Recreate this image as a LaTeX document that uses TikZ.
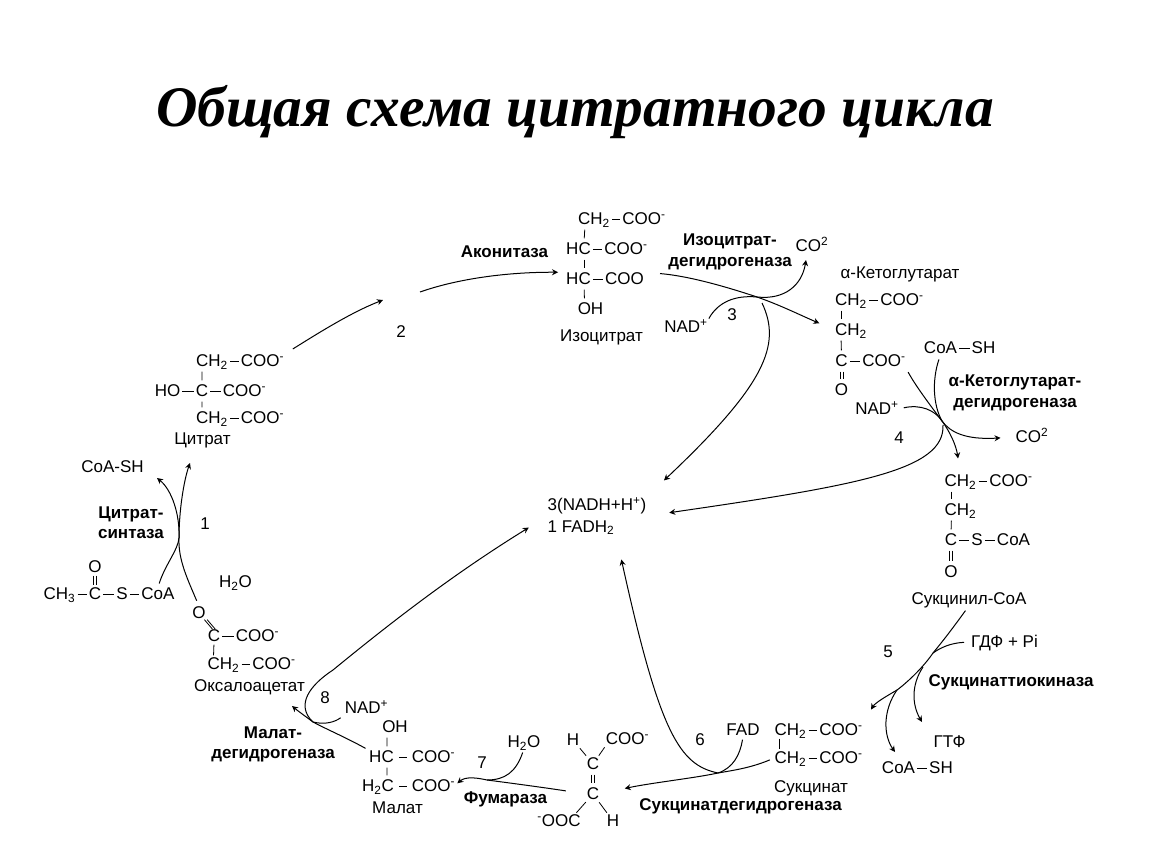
\documentclass[tikz,border=0pt]{standalone}
\usepackage{fontspec}
\setmainfont{Liberation Sans}
\newfontfamily\titlefont{Liberation Serif}
\usetikzlibrary{arrows.meta}
\newcommand{\coom}{COO\textsuperscript{-}}
\newcommand{\chtwo}{CH\textsubscript{2}}
\newcommand{\htwoo}{H\textsubscript{2}O}
\newcommand{\nadp}{NAD\textsuperscript{+}}
\newcommand{\cotwo}{CO\textsuperscript{2}}
\newcommand{\dbond}[3][vert]{%
  \draw[#1] ([xshift=-1.4pt]#2) -- ([xshift=-1.4pt]#3);
  \draw[#1] ([xshift=1.4pt]#2) -- ([xshift=1.4pt]#3);}
\tikzset{
  txt/.style={inner sep=0pt, text height=12pt, text depth=1pt, font=\fontsize{17}{19}\selectfont},
  enz/.style={inner sep=0pt, align=center, font=\fontsize{17}{20.5}\selectfont\bfseries},
  bond/.style={draw, line width=0.8pt, shorten <=2pt, shorten >=2pt},
  vert/.style={bond, shorten <=4pt, shorten >=4pt},
  wide/.style={bond, shorten <=5pt, shorten >=5pt},
  tight/.style={bond, shorten <=0pt, shorten >=0pt},
  rxn/.style={draw, line width=1pt, -{Stealth[length=6pt,width=6pt]}},
  side/.style={draw, line width=1pt}
}
\begin{document}
\begin{tikzpicture}[x=1pt, y=-1pt]
  \useasboundingbox (0,0) rectangle (1150,864);
  \node[inner sep=0pt, font=\titlefont\fontsize{57.4}{60}\selectfont\bfseries\itshape] (title) at (575,112) {Общая схема цитратного цикла};

  % isocitrate
  \node[txt] (ic1a) at (594,219) {\chtwo};
  \node[txt] (ic1b) at (644,219) {\coom};
  \node[txt] (ic2a) at (578.5,249) {HC};
  \node[txt] (ic2b) at (626,249) {\coom};
  \node[txt] (ic3a) at (578.5,279) {HC};
  \node[txt] (ic3b) at (624.5,279) {COO};
  \node[txt] (ic4) at (590.5,309) {OH};
  \node[txt] (icname) at (601.5,336) {Изоцитрат};
  \draw[bond] (ic1a) -- (ic1b);
  \draw[bond] (ic2a) -- (ic2b);
  \draw[bond] (ic3a) -- (ic3b);
  \draw[vert] ([xshift=7pt]ic1a.south west) -- ([xshift=18pt]ic2a.north west);
  \draw[vert] ([xshift=18pt]ic2a.south west) -- ([xshift=18pt]ic3a.north west);
  \draw[vert] ([xshift=18pt]ic3a.south west) -- ([xshift=7pt]ic4.north west);
  \node[enz] (acon) at (504.5,252) {Аконитаза};
  \node[enz] (icdh) at (730,252) {Изоцитрат-\\дегидрогеназа};
  \node[txt] (co2a) at (812,246) {\cotwo};
  \node[txt] (nada) at (686,327) {\nadp};
  \node[txt] (n3) at (732,315) {3};
  \node[txt] (n2) at (401,332) {2};

  % alpha-ketoglutarate
  \node[txt] (kgname) at (900,273) {α-Кетоглутарат};
  \node[txt] (kg1a) at (851,300) {\chtwo};
  \node[txt] (kg1b) at (902,300) {\coom};
  \node[txt] (kg2) at (851,330) {\chtwo};
  \node[txt] (kg3a) at (841.5,361) {C};
  \node[txt] (kg3b) at (884,361) {\coom};
  \node[txt] (kg4) at (841.5,390) {O};
  \draw[bond] (kg1a) -- (kg1b);
  \draw[bond] (kg3a) -- (kg3b);
  \draw[vert] ([xshift=6pt]kg1a.south west) -- ([xshift=6pt]kg2.north west);
  \draw[vert] ([xshift=6pt]kg2.south west) -- (kg3a.north);
  \dbond{kg3a.south}{kg4.north}
  \node[txt] (coa4a) at (940.5,348) {CoA};
  \node[txt] (coa4b) at (983.5,348) {SH};
  \draw[bond] (coa4a) -- (coa4b);
  \node[enz] (kgdh) at (1015,393) {α-Кетоглутарат-\\дегидрогеназа};
  \node[txt] (nadb) at (877,409) {\nadp};
  \node[txt] (n4) at (899,438) {4};
  \node[txt] (co2b) at (1032,437) {\cotwo};

  % succinyl-CoA
  \node[txt] (sc1a) at (960.5,481) {\chtwo};
  \node[txt] (sc1b) at (1011,481) {\coom};
  \node[txt] (sc2) at (960.5,510) {\chtwo};
  \node[txt] (sc3a) at (951,540) {C};
  \node[txt] (sc3b) at (977,540) {S};
  \node[txt] (sc3c) at (1013.5,540) {CoA};
  \node[txt] (sc4) at (951,572) {O};
  \node[txt] (scname) at (969,599) {Сукцинил-CoA};
  \draw[bond] (sc1a) -- (sc1b);
  \draw[bond] (sc3a) -- (sc3b);
  \draw[bond] (sc3b) -- (sc3c);
  \draw[vert] ([xshift=7pt]sc1a.south west) -- ([xshift=7pt]sc2.north west);
  \draw[vert] ([xshift=7pt]sc2.south west) -- (sc3a.north);
  \dbond{sc3a.south}{sc4.north}

  % succinate side
  \node[txt] (gdf) at (1004.5,642) {ГДФ + Pi};
  \node[txt] (n5) at (888,652) {5};
  \node[enz] (skin) at (1011,682) {Сукцинаттиокиназа};
  \node[txt] (gtf) at (949.5,742) {ГТФ};
  \node[txt] (coa5a) at (898.5,768) {CoA};
  \node[txt] (coa5b) at (941,768) {SH};
  \draw[bond] (coa5a) -- (coa5b);
  \node[txt] (su1a) at (790.5,730) {\chtwo};
  \node[txt] (su1b) at (841,730) {\coom};
  \node[txt] (su2a) at (790.5,758) {\chtwo};
  \node[txt] (su2b) at (841,758) {\coom};
  \node[txt] (suname) at (811,787) {Сукцинат};
  \node[enz] (sdh) at (740.5,806) {Сукцинатдегидрогеназа};
  \draw[bond] (su1a) -- (su1b);
  \draw[bond] (su2a) -- (su2b);
  \draw[bond] ([xshift=5pt]su1a.south west) -- ([xshift=5pt]su2a.north west);
  \node[txt] (fad) at (743,730) {FAD};
  \node[txt] (n6) at (700,740) {6};

  % fumarate
  \node[txt] (fu1a) at (573,740) {H};
  \node[txt] (fu1b) at (627.5,739) {\coom};
  \node[txt] (fu2) at (593,764) {C};
  \node[txt] (fu3) at (593,794) {C};
  \node[txt] (fu4a) at (559,821) {\textsuperscript{-}OOC};
  \node[txt] (fu4b) at (613,821) {H};
  \draw[bond] (fu1a) -- (fu2);
  \draw[bond] (fu1b.south west) -- (fu2);
  \dbond{fu2.south}{fu3.north}
  \draw[bond] (fu3) -- ([xshift=16pt]fu4a.north);
  \draw[bond] (fu3) -- (fu4b);
  \node[enz] (fum) at (505.5,799) {Фумараза};
  \node[txt] (wata) at (524,742) {\htwoo};
  \node[txt] (n7) at (482,763) {7};

  % malate
  \node[txt] (ma1) at (395,727) {OH};
  \node[txt] (ma2a) at (381.5,757) {HC};
  \node[txt] (ma2b) at (433.5,757) {\coom};
  \node[txt] (ma3a) at (378,786) {H\textsubscript{2}C};
  \node[txt] (ma3b) at (433.5,786) {\coom};
  \node[txt] (maname) at (397.5,808) {Малат};
  \draw[wide] (ma2a) -- (ma2b);
  \draw[wide] (ma3a) -- (ma3b);
  \draw[vert] ([xshift=5pt]ma1.south west) -- ([xshift=18pt]ma2a.north west);
  \draw[vert] ([xshift=18pt]ma2a.south west) -- ([xshift=25pt]ma3a.north west);
  \node[enz] (mdh) at (273,744.5) {Малат-\\дегидрогеназа};
  \node[txt] (nadc) at (366.5,708) {\nadp};
  \node[txt] (n8) at (325,698) {8};

  % oxaloacetate
  \node[txt] (oa1) at (199,613) {O};
  \node[txt] (oa2a) at (214,636) {C};
  \node[txt] (oa2b) at (257.5,636) {\coom};
  \node[txt] (oa3a) at (223.5,664) {\chtwo};
  \node[txt] (oa3b) at (274,664) {\coom};
  \node[txt] (oaname) at (249.5,686) {Оксалоацетат};
  \dbond[tight]{oa1.south east}{oa2a.north}
  \draw[bond] (oa2a) -- (oa2b);
  \draw[bond] (oa3a) -- (oa3b);
  \draw[bond] (oa2a.south) -- ([xshift=6pt]oa3a.north west);

  % acetyl-CoA
  \node[txt] (ac1) at (95,567) {O};
  \node[txt] (ac2a) at (59.5,594) {CH\textsubscript{3}};
  \node[txt] (ac2b) at (95,594) {C};
  \node[txt] (ac2c) at (122,594) {S};
  \node[txt] (ac2d) at (158,594) {CoA};
  \dbond[bond]{ac1.south}{ac2b.north}
  \draw[bond] (ac2a) -- (ac2b);
  \draw[bond] (ac2b) -- (ac2c);
  \draw[bond] (ac2c) -- (ac2d);
  \node[txt] (watb) at (235.5,582) {\htwoo};
  \node[txt] (coab) at (112.5,467) {CoA-SH};
  \node[enz] (csyn) at (131,522.5) {Цитрат-\\синтаза};
  \node[txt] (n1) at (205,524) {1};

  % citrate
  \node[txt] (ci1a) at (212,361) {\chtwo};
  \node[txt] (ci1b) at (262.5,361) {\coom};
  \node[txt] (ci2a) at (167.5,391) {HO};
  \node[txt] (ci2b) at (202,391) {C};
  \node[txt] (ci2c) at (244.5,391) {\coom};
  \node[txt] (ci3a) at (212,418) {\chtwo};
  \node[txt] (ci3b) at (262.5,418) {\coom};
  \node[txt] (ciname) at (202.5,439) {Цитрат};
  \draw[bond] (ci1a) -- (ci1b);
  \draw[bond] (ci2a) -- (ci2b);
  \draw[bond] (ci2b) -- (ci2c);
  \draw[bond] (ci3a) -- (ci3b);
  \draw[vert] ([xshift=6pt]ci1a.south west) -- (ci2b.north);
  \draw[vert] (ci2b.south) -- ([xshift=6pt]ci3a.north west);

  % centre
  \node[inner sep=0pt, align=left, font=\fontsize{17}{22}\selectfont] (nadh) at (597,516) {3(NADH+H\textsuperscript{+})\\1 FADH\textsubscript{2}};

  % junctions and free ends of the cycle
  \coordinate (j3) at (757,297);
  \coordinate (j3b) at (762,303);
  \coordinate (j4) at (942,421);
  \coordinate (j4b) at (943,425);
  \coordinate (j5) at (933,653);
  \coordinate (j5b) at (923,667);
  \coordinate (j5c) at (897,690);
  \coordinate (j6) at (718,773);
  \coordinate (j7) at (487,780);
  \coordinate (j8) at (313,722);
  \coordinate (j1) at (179,538);
  \coordinate (ga) at (383,300);
  \coordinate (gb) at (420,292);
  \coordinate (mdend) at (292,706);
  \coordinate (ciend) at (190,463);
  \coordinate (coaend) at (157,478);
  \coordinate (coend) at (806,260);
  \coordinate (gtfend) at (922,722);
  \coordinate (coa5end) at (895,752);

  % cycle
  \draw[rxn, shorten <=10pt] (ci1b.north east) .. controls (320,332) and (352,312) .. (ga);
  \draw[rxn, shorten >=8pt] (gb) .. controls (460,278) and (510,272) .. (ic3a.north west);
  \draw[rxn, shorten <=16pt, shorten >=17pt] (ic3b.north east) .. controls (690,276) and (730,288) .. (j3) .. controls (780,305) and (800,315) .. (kg2.west);
  \draw[rxn, shorten <=5pt, shorten >=16pt] (kg3b.south east) .. controls (915,385) and (930,405) .. (j4) .. controls (950,432) and (956,445) .. (sc1a.north);
  \draw[rxn, shorten <=6pt, shorten >=16pt] (scname.south) .. controls (950,632) and (942,642) .. (j5) .. controls (920,672) and (900,688) .. (j5c) .. controls (885,697) and (875,703) .. (su1b.north east);
  \draw[rxn, shorten <=5pt, shorten >=26pt] (su2a.west) .. controls (750,768) and (735,770) .. (j6) .. controls (695,778) and (650,783) .. (fu3.east);
  \draw[rxn, shorten <=21pt] (fu3.west) .. controls (540,787) and (510,783) .. (j7) .. controls (478,778) and (466,776) .. ([shift={(2pt,-4pt)}]ma3b.north east);
  \draw[rxn, shorten <=4pt] (ma2a.north west) .. controls (345,737) and (328,730) .. (j8) .. controls (305,716) and (298,711) .. (mdend);
  \draw[rxn, shorten <=6pt] (oa1.north) .. controls (188,580) and (178,560) .. (j1) .. controls (179,510) and (184,480) .. (ciend);
  \draw[side, shorten <=4pt] (ac2d.north) .. controls (165,565) and (178,550) .. (j1);
  \draw[rxn] (j1) .. controls (180,515) and (172,490) .. (coaend);

  % co-substrates
  \draw[side, shorten <=2pt] (nada.north east) .. controls (718,302) and (735,295) .. (j3);
  \draw[rxn] (j3) .. controls (785,300) and (802,285) .. (coend);
  \draw[side, shorten <=5pt] (nadb.east) .. controls (920,404) and (935,410) .. (j4);
  \draw[side, shorten <=5pt] (coa4a.south) .. controls (932,380) and (933,405) .. (j4);
  \draw[rxn, shorten >=15pt] (j4) .. controls (950,432) and (965,440) .. (co2b.west);
  \draw[side, shorten <=7pt] (gdf.west) .. controls (950,643) and (940,648) .. (j5);
  \draw[rxn] (j5b) .. controls (911,685) and (912,705) .. (gtfend);
  \draw[rxn] (j5c) .. controls (883,710) and (883,735) .. (coa5end);
  \draw[side, shorten <=3pt] (fad.south) .. controls (740,755) and (733,768) .. (j6);
  \draw[side, shorten <=4pt] (wata.south) .. controls (516,772) and (505,780) .. (j7);
  \draw[side, shorten <=5pt] (nadc.south west) .. controls (335,722) and (325,725) .. (j8);

  % to the reduced carriers
  \draw[rxn, shorten >=24pt] (j3b) .. controls (782,345) and (765,385) .. (nadh.north east);
  \draw[rxn, shorten >=23pt] (j4b) .. controls (945,470) and (860,485) .. (nadh.east);
  \draw[rxn, shorten >=25pt] (j6) .. controls (680,765) and (660,735) .. ([xshift=19pt]nadh.south);
  \draw[rxn, shorten >=22pt] (j8) .. controls (295,705) and (310,685) .. (333,670) .. controls (400,615) and (460,570) .. (nadh.west);
\end{tikzpicture}
\end{document}
